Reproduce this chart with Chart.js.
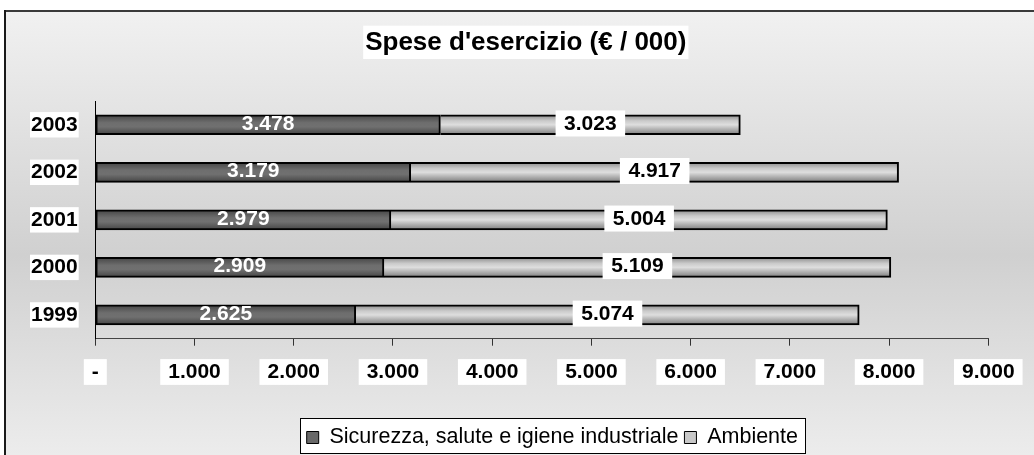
<!DOCTYPE html>
<html><head><meta charset="utf-8">
<script src="https://cdn.jsdelivr.net/npm/chart.js@4.4.1/dist/chart.umd.min.js"></script>
<style>html,body{margin:0;padding:0;background:#fff}canvas{display:block}</style>
</head><body>
<canvas id="c" width="1034" height="455"></canvas>
<script>
const years = ['2003', '2002', '2001', '2000', '1999'];
const sicurezza = [3478, 3179, 2979, 2909, 2625];
const ambiente = [3023, 4917, 5004, 5109, 5074];
const seriesNames = ['Sicurezza, salute e igiene industriale', 'Ambiente'];
const chartTitle = "Spese d'esercizio (€ / 000)";
const xMin = 0, xMax = 9000, xStep = 1000;

const FONT = "'Liberation Sans', Arial, Helvetica, sans-serif";
Chart.defaults.font.family = FONT;
Chart.defaults.color = '#000';

function fmt(v) {
  if (v === 0) return '-';
  return String(Math.round(v)).replace(/\B(?=(\d{3})+(?!\d))/g, '.');
}

const darkStops = [[0, '#444444'], [0.4, '#6e6e6e'], [0.6, '#707070'], [1, '#444444']];
const lightStops = [[0, '#8a8a8a'], [0.3, '#cacaca'], [0.5, '#dedede'], [0.72, '#b2b2b2'], [1, '#7c7c7c']];

function barGradient(ctx, stops) {
  const chart = ctx.chart;
  if (!chart.chartArea || ctx.type !== 'data') return stops[1][1];
  const yc = chart.scales.y.getPixelForValue(ctx.dataIndex);
  const g = chart.ctx.createLinearGradient(0, yc - 10, 0, yc + 10);
  stops.forEach(s => g.addColorStop(s[0], s[1]));
  return g;
}

const TITLE_SIZE = 26, TITLE_PAD_TOP = 26.8, TITLE_PAD_BOTTOM = 43;
const LEG_SIZE = 21.5, LEG_PAD = 6;

const bgPlugin = {
  id: 'bg',
  afterLayout(chart) {
    const lg = chart.legend;
    const w = lg.right - lg.left;
    lg.left = chart.chartArea.left + 205.4;
    lg.right = lg.left + w;
    const tb = chart.titleBlock;
    tb.left += 21.65;
    tb.right += 21.65;
  },
  beforeDraw(chart) {
    const c = chart.ctx, W = chart.width, H = chart.height;
    c.save();
    c.fillStyle = '#fff';
    c.fillRect(0, 0, W, H);
    const g = c.createLinearGradient(0, 11, 0, H);
    g.addColorStop(0, '#f1f1f1');
    g.addColorStop(0.55, '#d0d0d0');
    g.addColorStop(1, '#ececec');
    c.fillStyle = g;
    c.fillRect(5, 11, W - 5, H - 11);
    c.fillStyle = '#3a3a3a';
    c.fillRect(4, 10, W - 4, 2);
    c.fillStyle = '#1a1a1a';
    c.fillRect(4, 10, 2, H - 10);
    // title white box
    const tb = chart.titleBlock;
    c.font = 'bold ' + TITLE_SIZE + 'px ' + FONT;
    const tw = c.measureText(chartTitle).width;
    const cx = (tb.left + tb.right) / 2;
    const cy = tb.top + TITLE_PAD_TOP + TITLE_SIZE * 1.2 / 2;
    c.fillStyle = '#fff';
    c.fillRect(cx - tw / 2 - 2, cy - 16.7, tw + 4, 33.3);
    // legend box
    const lg = chart.legend;
    const lw = lg.lineWidths[0] + LEG_PAD + 2;
    c.fillStyle = '#fff';
    c.fillRect(lg.left, lg.top - 2.5, lw, 35);
    c.strokeStyle = '#000';
    c.lineWidth = 1;
    c.strokeRect(Math.round(lg.left) - 0.5, Math.round(lg.top - 2.5) + 0.5, Math.round(lw), 35);
    c.restore();
  }
};

const labelPlugin = {
  id: 'vals',
  afterDatasetsDraw(chart) {
    const c = chart.ctx;
    c.save();
    c.font = 'bold 21px ' + FONT;
    c.textAlign = 'center';
    c.textBaseline = 'middle';
    chart.data.datasets.forEach((ds, di) => {
      const meta = chart.getDatasetMeta(di);
      meta.data.forEach((bar, i) => {
        const t = fmt(ds.data[i]);
        const cx = (bar.x + bar.base) / 2, cy = bar.y;
        if (di === 1) {
          const w = c.measureText(t).width + 17;
          c.fillStyle = '#fff';
          c.fillRect(cx - w / 2, cy - 14.3, w, 26);
          c.fillStyle = '#000';
        } else {
          c.fillStyle = '#fff';
        }
        c.fillText(t, cx, cy - 1);
      });
    });
    c.restore();
  }
};

new Chart(document.getElementById('c'), {
  type: 'bar',
  data: {
    labels: years,
    datasets: [
      {
        label: seriesNames[0],
        data: sicurezza,
        backgroundColor: ctx => barGradient(ctx, darkStops),
        borderColor: '#000',
        borderWidth: 2,
        borderSkipped: false,
        barThickness: 20
      },
      {
        label: seriesNames[1],
        data: ambiente,
        backgroundColor: ctx => barGradient(ctx, lightStops),
        borderColor: '#000',
        borderWidth: 2,
        borderSkipped: 'start',
        barThickness: 20
      }
    ]
  },
  options: {
    indexAxis: 'y',
    responsive: false,
    animation: false,
    devicePixelRatio: 1,
    layout: { padding: { left: 20, right: 45.7, top: 0, bottom: -3.25 } },
    scales: {
      x: {
        stacked: true,
        min: xMin, max: xMax,
        afterFit(s) { s.height = 82.05; },
        ticks: {
          stepSize: xStep,
          autoSkip: false,
          maxRotation: 0,
          padding: 13.7,
          font: { size: 21, weight: 'bold' },
          color: '#000',
          showLabelBackdrop: true,
          backdropColor: '#fff',
          backdropPadding: { left: 8, right: 8, top: 0.3, bottom: 0.3 },
          callback: v => fmt(v)
        },
        grid: { drawOnChartArea: false, drawTicks: true, tickLength: 7, color: '#333', lineWidth: 1 },
        border: { display: true, color: '#444', width: 1 }
      },
      y: {
        stacked: true,
        afterFit(s) { s.width = 75.3; },
        ticks: {
          padding: 17.6,
          font: { size: 21, weight: 'bold' },
          color: '#000',
          showLabelBackdrop: true,
          backdropColor: '#fff',
          backdropPadding: { left: 1, right: 1, top: 0.1, bottom: 0.1 }
        },
        grid: { display: false, drawTicks: false, tickLength: 0 },
        border: { display: true, color: '#000', width: 1 }
      }
    },
    plugins: {
      title: {
        display: true,
        text: chartTitle,
        color: '#000',
        font: { size: TITLE_SIZE, weight: 'bold', lineHeight: 1.2 },
        padding: { top: TITLE_PAD_TOP, bottom: TITLE_PAD_BOTTOM }
      },
      legend: {
        display: true,
        position: 'bottom',
        align: 'start',
        labels: {
          boxWidth: 12,
          boxHeight: 12,
          padding: LEG_PAD,
          color: '#000',
          font: { size: LEG_SIZE },
          generateLabels: () => [
            { text: seriesNames[0], fillStyle: '#686868', strokeStyle: '#000', lineWidth: 1, hidden: false, datasetIndex: 0 },
            { text: seriesNames[1], fillStyle: '#c8c8c8', strokeStyle: '#000', lineWidth: 1, hidden: false, datasetIndex: 1 }
          ]
        }
      },
      tooltip: { enabled: false }
    }
  },
  plugins: [bgPlugin, labelPlugin]
});
</script>
</body></html>
